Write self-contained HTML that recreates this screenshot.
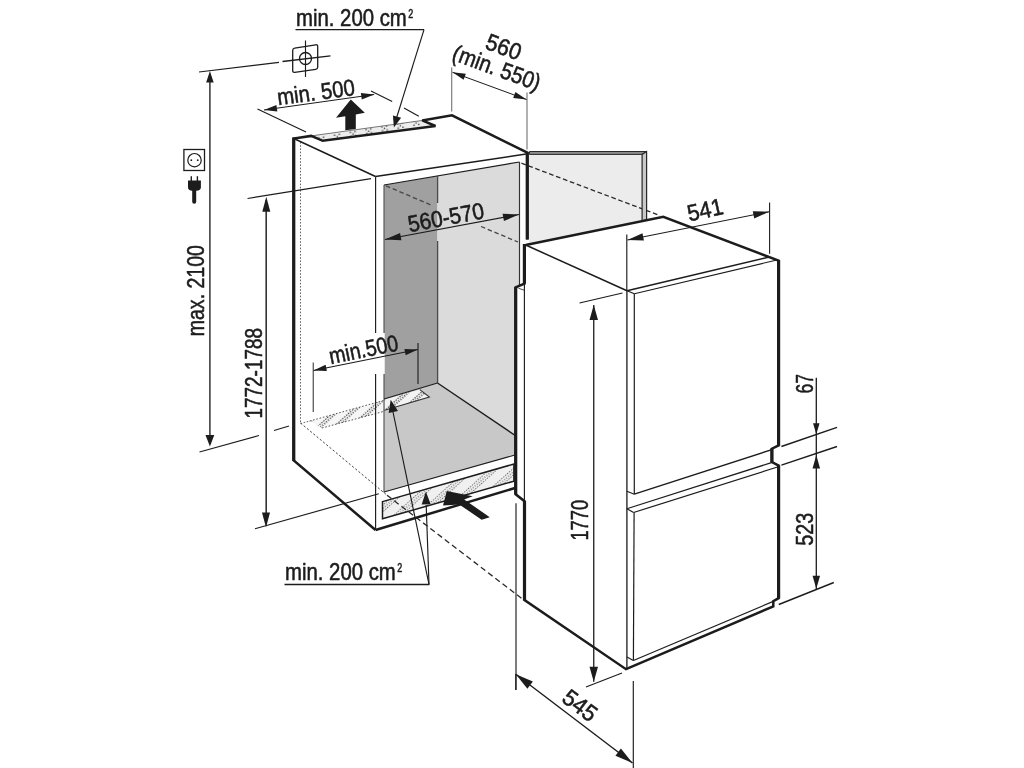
<!DOCTYPE html>
<html><head><meta charset="utf-8"><title>Installation dimensions</title>
<style>
html,body{margin:0;padding:0;background:#fff;}
body{width:1024px;height:768px;overflow:hidden;}
svg{display:block;filter:grayscale(1);}
text{font-family:"Liberation Sans",sans-serif;fill:#1c1c1c;stroke:#1c1c1c;stroke-width:0.55px;stroke-linejoin:round;}
</style></head><body>
<svg width="1024" height="768" viewBox="0 0 1024 768">
<defs>
<pattern id="stip" width="16" height="9" patternUnits="userSpaceOnUse" patternTransform="rotate(-10)">
<rect width="16" height="9" fill="#ededed"/>
<circle cx="2" cy="2.2" r="0.75" fill="#222"/><circle cx="4.4" cy="4.2" r="0.75" fill="#222"/><circle cx="6.8" cy="2.2" r="0.75" fill="#222"/><circle cx="2" cy="6.2" r="0.75" fill="#222"/><circle cx="6.8" cy="6.2" r="0.75" fill="#222"/>
</pattern>
<pattern id="stipb" width="2.6" height="15" patternUnits="userSpaceOnUse" patternTransform="rotate(-42)">
<rect width="2.6" height="15" fill="#f0f0f0"/>
<circle cx="0.7" cy="1.5" r="0.6" fill="#2a2a2a"/><circle cx="2" cy="4" r="0.6" fill="#2a2a2a"/><circle cx="0.7" cy="6.5" r="0.6" fill="#2a2a2a"/>
</pattern>
<pattern id="stip2" width="2.6" height="11" patternUnits="userSpaceOnUse" patternTransform="rotate(-42)">
<rect width="2.6" height="11" fill="#f6f6f6"/>
<circle cx="0.7" cy="1.5" r="0.7" fill="#333"/><circle cx="2" cy="4" r="0.7" fill="#333"/>
</pattern>
<pattern id="stip3" width="2.6" height="11" patternUnits="userSpaceOnUse" patternTransform="rotate(-42)">
<rect width="2.6" height="11" fill="#f4f4f4"/>
<circle cx="0.7" cy="1.5" r="0.7" fill="#222"/><circle cx="2" cy="4" r="0.7" fill="#222"/>
</pattern>
</defs>
<rect width="1024" height="768" fill="#fff"/>
<polygon points="529,153 643,153 643,221 529,243.3" fill="#ececec" stroke="none" stroke-width="1" stroke-linejoin="miter"/>
<polygon points="529.5,151.5 646.6,151.5 642.1,154.4 529.5,154.4" fill="#8c8c8c" stroke="#2a2a2a" stroke-width="1" stroke-linejoin="miter"/>
<polygon points="384,185 437.5,176 437.5,383 384,399" fill="#a0a0a0" stroke="none" stroke-width="1" stroke-linejoin="miter"/>
<polygon points="437.5,176 519.5,162 519.5,285 516,287 516,436 437.5,383" fill="#dbdbdb" stroke="none" stroke-width="1" stroke-linejoin="miter"/>
<polygon points="384,399 437.5,383 516,436 516,455 384,492" fill="#c8c8c8" stroke="none" stroke-width="1" stroke-linejoin="miter"/>
<polygon points="311.5,135.8 422.2,120.4 435.3,125.8 322.7,140.4" fill="url(#stip)" stroke="none" stroke-width="1" stroke-linejoin="miter"/>
<line x1="312" y1="135.8" x2="422" y2="120.5" stroke="#555" stroke-width="0.8" stroke-linecap="butt"/>
<polygon points="309.7,421 384,400.4 384,411.4 322,428" fill="url(#stip2)" stroke="none" stroke-width="1" stroke-linejoin="miter"/>
<line x1="309.7" y1="421" x2="384" y2="400.4" stroke="#444" stroke-width="0.9" stroke-dasharray="1.6,1.8" stroke-linecap="butt"/>
<line x1="322" y1="428" x2="384" y2="411.4" stroke="#444" stroke-width="0.9" stroke-dasharray="1.6,1.8" stroke-linecap="butt"/>
<polygon points="384.5,399.4 419.8,389.6 429.4,397.1 384.5,410.2" fill="url(#stip3)" stroke="none" stroke-width="1" stroke-linejoin="miter"/>
<polygon points="382.5,501.6 513.9,464 513.9,481.2 382.5,518.8" fill="url(#stipb)" stroke="#1c1c1c" stroke-width="1.5" stroke-linejoin="miter"/>
<line x1="300.5" y1="142" x2="300.5" y2="423" stroke="#555" stroke-width="0.9" stroke-dasharray="1.6,1.6" stroke-linecap="butt"/>
<line x1="300.5" y1="423.5" x2="310" y2="421" stroke="#555" stroke-width="0.9" stroke-dasharray="1.6,1.6" stroke-linecap="butt"/>
<line x1="300.5" y1="423" x2="387" y2="495.2" stroke="#444" stroke-width="1" stroke-dasharray="2.2,2" stroke-linecap="butt"/>
<line x1="387" y1="495.2" x2="523.2" y2="599.6" stroke="#2a2a2a" stroke-width="1.3" stroke-dasharray="5.6,3.5" stroke-linecap="butt"/>
<line x1="386" y1="185.8" x2="431" y2="205" stroke="#484848" stroke-width="1.35" stroke-dasharray="4.5,2.8" stroke-linecap="butt"/>
<line x1="481" y1="226.5" x2="518" y2="242" stroke="#484848" stroke-width="1.35" stroke-dasharray="4.5,2.8" stroke-linecap="butt"/>
<line x1="521.4" y1="163.2" x2="660" y2="215.6" stroke="#2a2a2a" stroke-width="1.3" stroke-dasharray="4.7,2.7" stroke-linecap="butt"/>
<polygon points="646.6,151.5 646.6,219.8 642.1,220.8 642.1,154.4" fill="#c8c8c8" stroke="#262626" stroke-width="1.2" stroke-linejoin="miter"/>
<line x1="293.75" y1="138.5" x2="375.5" y2="176.5" stroke="#1c1c1c" stroke-width="1.5" stroke-linecap="butt"/>
<line x1="375.5" y1="176.5" x2="526" y2="154" stroke="#1c1c1c" stroke-width="1.5" stroke-linecap="butt"/>
<line x1="375.6" y1="176.5" x2="375.6" y2="333" stroke="#1c1c1c" stroke-width="1.15" stroke-linecap="butt"/>
<line x1="375.6" y1="374" x2="375.6" y2="530" stroke="#1c1c1c" stroke-width="1.15" stroke-linecap="butt"/>
<line x1="384" y1="185" x2="519.5" y2="162" stroke="#1c1c1c" stroke-width="1.15" stroke-linecap="butt"/>
<line x1="384" y1="185" x2="384" y2="492.5" stroke="#555" stroke-width="1.15" stroke-linecap="butt"/>
<line x1="519.5" y1="162" x2="519.5" y2="285" stroke="#333" stroke-width="1.15" stroke-linecap="butt"/>
<line x1="437.6" y1="176" x2="437.6" y2="203" stroke="#4a4a4a" stroke-width="1.3" stroke-linecap="butt"/>
<line x1="437.6" y1="241" x2="437.6" y2="383" stroke="#4a4a4a" stroke-width="1.3" stroke-linecap="butt"/>
<line x1="384" y1="399" x2="437.5" y2="383" stroke="#1c1c1c" stroke-width="1.2" stroke-linecap="butt"/>
<line x1="437.5" y1="383" x2="516" y2="436" stroke="#1c1c1c" stroke-width="1.4" stroke-linecap="butt"/>
<line x1="384" y1="492" x2="515" y2="455" stroke="#1c1c1c" stroke-width="1.1" stroke-linecap="butt"/>
<polyline points="419.8,389.6 429.4,397.1 384.5,410.2" fill="none" stroke="#333" stroke-width="1.1" stroke-linejoin="miter" stroke-miterlimit="2.2" stroke-linecap="butt"/>
<polyline points="375.5,530 293.75,460.5 293.75,138.6 311.2,135.9 322.7,140.8 435.5,126 422.2,120.4 452,115.3 527.25,152.6 527.25,239.5" fill="none" stroke="#1c1c1c" stroke-width="2.5" stroke-linejoin="miter" stroke-miterlimit="2.2" stroke-linecap="butt"/>
<line x1="375.5" y1="530" x2="515" y2="488" stroke="#1c1c1c" stroke-width="2.5" stroke-linecap="butt"/>
<polyline points="525.7,245 663.3,216.9 778.6,260.6 778.6,445.5 771.9,448.7 771.9,462 778.6,465.6 778.6,598.2 773.3,601.2 773.3,606.4 626,669.2 524.5,600 524.5,501.2 515.7,494.3 515.7,287.3 524.4,283.6 524.4,245" fill="none" stroke="#1c1c1c" stroke-width="2.5" stroke-linejoin="miter" stroke-miterlimit="2.2" stroke-linecap="butt"/>
<line x1="375.5" y1="530" x2="375.5" y2="530" stroke="#1c1c1c" stroke-width="2.5" stroke-linecap="butt"/>
<line x1="293.75" y1="137.5" x2="293.75" y2="461" stroke="#1c1c1c" stroke-width="3.2" stroke-linecap="butt"/>
<line x1="527.25" y1="152" x2="527.25" y2="239.5" stroke="#1c1c1c" stroke-width="3.2" stroke-linecap="butt"/>
<line x1="778.6" y1="260" x2="778.6" y2="445.8" stroke="#1c1c1c" stroke-width="3.2" stroke-linecap="butt"/>
<line x1="778.6" y1="465.3" x2="778.6" y2="598.5" stroke="#1c1c1c" stroke-width="3.2" stroke-linecap="butt"/>
<line x1="771.9" y1="448.4" x2="771.9" y2="462.3" stroke="#1c1c1c" stroke-width="3.2" stroke-linecap="butt"/>
<line x1="524.5" y1="501" x2="524.5" y2="600.5" stroke="#1c1c1c" stroke-width="3.2" stroke-linecap="butt"/>
<line x1="524.4" y1="244" x2="524.4" y2="283.8" stroke="#1c1c1c" stroke-width="3.2" stroke-linecap="butt"/>
<line x1="515.7" y1="287" x2="515.7" y2="494.5" stroke="#1c1c1c" stroke-width="3.2" stroke-linecap="butt"/>
<line x1="525.7" y1="245" x2="627" y2="290.8" stroke="#1c1c1c" stroke-width="1.5" stroke-linecap="butt"/>
<line x1="627" y1="290.8" x2="768.3" y2="257.3" stroke="#1c1c1c" stroke-width="1.5" stroke-linecap="butt"/>
<line x1="634.4" y1="293.8" x2="777" y2="260" stroke="#1c1c1c" stroke-width="1.1" stroke-linecap="butt"/>
<line x1="627" y1="290.8" x2="634.4" y2="293.8" stroke="#1c1c1c" stroke-width="1.15" stroke-linecap="butt"/>
<line x1="626.9" y1="290.8" x2="626.9" y2="668" stroke="#2a2a2a" stroke-width="1.4" stroke-linecap="butt"/>
<line x1="634.3" y1="293.8" x2="634.3" y2="494.2" stroke="#1c1c1c" stroke-width="1.2" stroke-linecap="butt"/>
<line x1="634.1" y1="512.5" x2="633.4" y2="660.5" stroke="#1c1c1c" stroke-width="1.2" stroke-linecap="butt"/>
<line x1="634.3" y1="494.2" x2="771.9" y2="449.6" stroke="#1c1c1c" stroke-width="1.4" stroke-linecap="butt"/>
<line x1="626.9" y1="491.2" x2="634.3" y2="494.2" stroke="#1c1c1c" stroke-width="1.15" stroke-linecap="butt"/>
<line x1="626.9" y1="508.8" x2="771.5" y2="462.6" stroke="#1c1c1c" stroke-width="1.2" stroke-linecap="butt"/>
<line x1="633.6" y1="512.5" x2="777.5" y2="467" stroke="#1c1c1c" stroke-width="1.2" stroke-linecap="butt"/>
<line x1="626.9" y1="508.8" x2="633.6" y2="512.5" stroke="#1c1c1c" stroke-width="1.15" stroke-linecap="butt"/>
<line x1="633.4" y1="660.5" x2="773.2" y2="601.4" stroke="#1c1c1c" stroke-width="1.2" stroke-linecap="butt"/>
<line x1="626.9" y1="657" x2="633.4" y2="660.5" stroke="#1c1c1c" stroke-width="1.15" stroke-linecap="butt"/>
<line x1="524.4" y1="283.6" x2="524.4" y2="500.5" stroke="#1c1c1c" stroke-width="1.15" stroke-linecap="butt"/>
<line x1="518.4" y1="288.2" x2="524.4" y2="290.3" stroke="#1c1c1c" stroke-width="0.8" stroke-linecap="butt"/>
<line x1="516" y1="503.2" x2="516" y2="690" stroke="#1c1c1c" stroke-width="1.15" stroke-linecap="butt"/>
<line x1="199" y1="72" x2="279" y2="62.4" stroke="#1c1c1c" stroke-width="1.15" stroke-linecap="butt"/>
<line x1="209.9" y1="75" x2="209.9" y2="440" stroke="#333" stroke-width="1.5" stroke-linecap="butt"/>
<polygon points="209.9,71 213.65,82.5 206.15,82.5" fill="#1c1c1c" stroke="none" stroke-width="1" stroke-linejoin="miter"/>
<polygon points="209.9,446.5 205.5,435.0 214.3,435.0" fill="#1c1c1c" stroke="none" stroke-width="1" stroke-linejoin="miter"/>
<line x1="199.5" y1="452" x2="259" y2="435.5" stroke="#1c1c1c" stroke-width="1.15" stroke-linecap="butt"/>
<line x1="274" y1="430.5" x2="289" y2="426" stroke="#1c1c1c" stroke-width="1.15" stroke-linecap="butt"/>
<text x="203.8" y="336.3" font-size="23.2" text-anchor="start" textLength="91.3" lengthAdjust="spacingAndGlyphs" transform="rotate(-90 203.8 336.3)">max. 2100</text>
<line x1="247.5" y1="198.5" x2="371" y2="178.6" stroke="#1c1c1c" stroke-width="1.15" stroke-linecap="butt"/>
<line x1="266.2" y1="200" x2="266.2" y2="520" stroke="#333" stroke-width="1.6" stroke-linecap="butt"/>
<polygon points="266.3,196.7 270.3,211.7 262.3,211.7" fill="#1c1c1c" stroke="none" stroke-width="1" stroke-linejoin="miter"/>
<polygon points="266,527.5 262.0,512.5 270.0,512.5" fill="#1c1c1c" stroke="none" stroke-width="1" stroke-linejoin="miter"/>
<line x1="255" y1="528.8" x2="378.8" y2="493.8" stroke="#1c1c1c" stroke-width="1.15" stroke-linecap="butt"/>
<text x="262" y="418.5" font-size="23.2" text-anchor="start" textLength="90.5" lengthAdjust="spacingAndGlyphs" transform="rotate(-90 262 418.5)">1772-1788</text>
<line x1="257.5" y1="109" x2="306" y2="132" stroke="#1c1c1c" stroke-width="1.15" stroke-linecap="butt"/>
<line x1="371" y1="91" x2="392.2" y2="101.4" stroke="#1c1c1c" stroke-width="1.15" stroke-linecap="butt"/>
<line x1="404" y1="108" x2="418.8" y2="116.3" stroke="#1c1c1c" stroke-width="1.15" stroke-linecap="butt"/>
<line x1="264" y1="110" x2="374.2" y2="94.5" stroke="#1c1c1c" stroke-width="1" stroke-linecap="butt"/>
<polygon points="264,110 276.42,104.97 277.33,111.41" fill="#1c1c1c" stroke="none" stroke-width="1" stroke-linejoin="miter"/>
<polygon points="374.2,94.5 361.78,99.53 360.87,93.09" fill="#1c1c1c" stroke="none" stroke-width="1" stroke-linejoin="miter"/>
<text x="278.3" y="105.3" font-size="23.2" text-anchor="start" textLength="78" lengthAdjust="spacingAndGlyphs" transform="rotate(-7.6 278.3 105.3)">min. 500</text>
<line x1="451.7" y1="67.5" x2="451.7" y2="111.5" stroke="#777" stroke-width="1.15" stroke-linecap="butt"/>
<line x1="527" y1="92.5" x2="527" y2="149.5" stroke="#777" stroke-width="1.15" stroke-linecap="butt"/>
<line x1="452.5" y1="72.3" x2="526.5" y2="99.5" stroke="#1c1c1c" stroke-width="1" stroke-linecap="butt"/>
<polygon points="452.5,72.3 465.82,73.73 463.58,79.84" fill="#1c1c1c" stroke="none" stroke-width="1" stroke-linejoin="miter"/>
<polygon points="526.5,99.5 513.18,98.07 515.42,91.96" fill="#1c1c1c" stroke="none" stroke-width="1" stroke-linejoin="miter"/>
<text x="501" y="54.5" font-size="23.2" text-anchor="middle" textLength="36" lengthAdjust="spacingAndGlyphs" transform="rotate(20 501 54.5)">560</text>
<text x="494" y="75.2" font-size="23.2" text-anchor="middle" textLength="92" lengthAdjust="spacingAndGlyphs" transform="rotate(20 494 75.2)">(min. 550)</text>
<line x1="385" y1="239.5" x2="519" y2="214.5" stroke="#1c1c1c" stroke-width="1.1" stroke-linecap="butt"/>
<polygon points="385,239.5 400.04,232.88 401.42,240.25" fill="#1c1c1c" stroke="none" stroke-width="1" stroke-linejoin="miter"/>
<polygon points="519,214.5 503.96,221.12 502.58,213.75" fill="#1c1c1c" stroke="none" stroke-width="1" stroke-linejoin="miter"/>
<text x="409.5" y="232.2" font-size="23.2" text-anchor="start" textLength="77" lengthAdjust="spacingAndGlyphs" transform="rotate(-10.5 409.5 232.2)">560-570</text>
<rect x="374" y="333" width="10.8" height="41" fill="#fff"/>
<line x1="313.25" y1="362.5" x2="313.25" y2="412" stroke="#444" stroke-width="1.15" stroke-linecap="butt"/>
<line x1="418" y1="343" x2="418" y2="384" stroke="#222" stroke-width="1.15" stroke-linecap="butt"/>
<line x1="313.5" y1="370.5" x2="417.8" y2="349.5" stroke="#1c1c1c" stroke-width="1.1" stroke-linecap="butt"/>
<polygon points="313.5,370.5 325.6,364.75 326.89,371.12" fill="#1c1c1c" stroke="none" stroke-width="1" stroke-linejoin="miter"/>
<polygon points="417.8,349.5 405.7,355.25 404.41,348.88" fill="#1c1c1c" stroke="none" stroke-width="1" stroke-linejoin="miter"/>
<text x="330.8" y="364.2" font-size="23.2" text-anchor="start" textLength="70" lengthAdjust="spacingAndGlyphs" transform="rotate(-11.5 330.8 364.2)">min.500</text>
<line x1="626.8" y1="234.5" x2="626.8" y2="290" stroke="#1c1c1c" stroke-width="1.15" stroke-linecap="butt"/>
<line x1="769.6" y1="202.5" x2="769.6" y2="253.7" stroke="#1c1c1c" stroke-width="1.1" stroke-linecap="butt"/>
<line x1="627.5" y1="240" x2="769.2" y2="211.7" stroke="#1c1c1c" stroke-width="1.1" stroke-linecap="butt"/>
<polygon points="627.5,240 642.46,233.19 643.92,240.54" fill="#1c1c1c" stroke="none" stroke-width="1" stroke-linejoin="miter"/>
<polygon points="769.2,211.7 754.24,218.51 752.78,211.16" fill="#1c1c1c" stroke="none" stroke-width="1" stroke-linejoin="miter"/>
<text x="689.3" y="221.5" font-size="23.2" text-anchor="start" textLength="36" lengthAdjust="spacingAndGlyphs" transform="rotate(-12.5 689.3 221.5)">541</text>
<line x1="579.5" y1="303" x2="622.5" y2="293" stroke="#1c1c1c" stroke-width="1.15" stroke-linecap="butt"/>
<line x1="593.75" y1="305" x2="593.75" y2="681.8" stroke="#1c1c1c" stroke-width="1.3" stroke-linecap="butt"/>
<polygon points="593.75,305 598.0,320.0 589.5,320.0" fill="#1c1c1c" stroke="none" stroke-width="1" stroke-linejoin="miter"/>
<polygon points="593.75,681.8 589.5,666.8 598.0,666.8" fill="#1c1c1c" stroke="none" stroke-width="1" stroke-linejoin="miter"/>
<line x1="586" y1="687" x2="622" y2="673" stroke="#1c1c1c" stroke-width="1.15" stroke-linecap="butt"/>
<text x="588.4" y="540.6" font-size="23.2" text-anchor="start" textLength="40.8" lengthAdjust="spacingAndGlyphs" transform="rotate(-90 588.4 540.6)">1770</text>
<line x1="781.4" y1="446.5" x2="837" y2="427.3" stroke="#1c1c1c" stroke-width="1.4" stroke-linecap="butt"/>
<line x1="781.4" y1="465.2" x2="837" y2="446.5" stroke="#1c1c1c" stroke-width="1.4" stroke-linecap="butt"/>
<line x1="816.3" y1="377.7" x2="816.3" y2="589" stroke="#1c1c1c" stroke-width="1.3" stroke-linecap="butt"/>
<polygon points="816.3,434.2 813.05,423.2 819.55,423.2" fill="#1c1c1c" stroke="none" stroke-width="1" stroke-linejoin="miter"/>
<polygon points="816.3,455 820.05,468.5 812.55,468.5" fill="#1c1c1c" stroke="none" stroke-width="1" stroke-linejoin="miter"/>
<polygon points="816.3,588.8 812.55,575.8 820.05,575.8" fill="#1c1c1c" stroke="none" stroke-width="1" stroke-linejoin="miter"/>
<line x1="778.8" y1="604.5" x2="833.8" y2="582.5" stroke="#1c1c1c" stroke-width="1.4" stroke-linecap="butt"/>
<text x="812.8" y="393.6" font-size="23.2" text-anchor="start" textLength="19.5" lengthAdjust="spacingAndGlyphs" transform="rotate(-90 812.8 393.6)">67</text>
<text x="812.6" y="545.8" font-size="23.2" text-anchor="start" textLength="33" lengthAdjust="spacingAndGlyphs" transform="rotate(-90 812.6 545.8)">523</text>
<line x1="515.8" y1="690" x2="515.8" y2="674" stroke="#1c1c1c" stroke-width="1.15" stroke-linecap="butt"/>
<line x1="633.3" y1="681" x2="633.3" y2="768" stroke="#1c1c1c" stroke-width="1.15" stroke-linecap="butt"/>
<line x1="515.8" y1="674.2" x2="632.5" y2="763" stroke="#1c1c1c" stroke-width="1.4" stroke-linecap="butt"/>
<polygon points="515.8,674.2 532.85,681.52 527.4,688.68" fill="#1c1c1c" stroke="none" stroke-width="1" stroke-linejoin="miter"/>
<polygon points="632.5,763 615.45,755.68 620.9,748.52" fill="#1c1c1c" stroke="none" stroke-width="1" stroke-linejoin="miter"/>
<text x="575.2" y="711.8" font-size="23.2" text-anchor="middle" textLength="37" lengthAdjust="spacingAndGlyphs" transform="rotate(37 575.2 711.8)">545</text>
<text x="296" y="26.4" font-size="23.2" text-anchor="start" textLength="110.8" lengthAdjust="spacingAndGlyphs">min. 200 cm</text>
<text x="408.3" y="18.2" font-size="12" text-anchor="start" textLength="5" lengthAdjust="spacingAndGlyphs">2</text>
<line x1="295.5" y1="29.6" x2="424" y2="29.6" stroke="#1c1c1c" stroke-width="1.3" stroke-linecap="butt"/>
<line x1="424" y1="29.6" x2="396.5" y2="118" stroke="#1c1c1c" stroke-width="1.15" stroke-linecap="butt"/>
<polygon points="393.9,127.6 392.92,115.38 401.1,117.68" fill="#1c1c1c" stroke="none" stroke-width="1" stroke-linejoin="miter"/>
<text x="285" y="579.8" font-size="23.2" text-anchor="start" textLength="110.8" lengthAdjust="spacingAndGlyphs">min. 200 cm</text>
<text x="397.3" y="571.6" font-size="12" text-anchor="start" textLength="5" lengthAdjust="spacingAndGlyphs">2</text>
<line x1="284.5" y1="584.5" x2="429.3" y2="584.5" stroke="#1c1c1c" stroke-width="1.3" stroke-linecap="butt"/>
<line x1="429" y1="584.5" x2="426.2" y2="505" stroke="#1c1c1c" stroke-width="1.15" stroke-linecap="butt"/>
<polygon points="425.9,491.4 430.69,504.3 421.69,504.5" fill="#1c1c1c" stroke="none" stroke-width="1" stroke-linejoin="miter"/>
<line x1="429" y1="584.5" x2="393" y2="412" stroke="#1c1c1c" stroke-width="1.15" stroke-linecap="butt"/>
<polygon points="390.7,399.8 397.95,411.04 388.66,413.02" fill="#1c1c1c" stroke="none" stroke-width="1" stroke-linejoin="miter"/>
<path d="M294.7,48.1 L315.7,44.8 Q317.7,44.5 317.7,46.5 L317.7,67 Q317.7,69 315.7,69.3 L294.7,72.3 Q292.7,72.6 292.7,70.6 L292.7,50.4 Q292.7,48.4 294.7,48.1 Z" fill="none" stroke="#1c1c1c" stroke-width="1.3"/>
<circle cx="305.5" cy="58.5" r="6" fill="none" stroke="#1c1c1c" stroke-width="1.3"/>
<line x1="305.5" y1="40.5" x2="305.5" y2="77" stroke="#1c1c1c" stroke-width="1.15" stroke-linecap="butt"/>
<line x1="282.5" y1="61.5" x2="330.5" y2="55.8" stroke="#1c1c1c" stroke-width="1.3" stroke-linecap="butt"/>
<rect x="183.9" y="149.5" width="20.6" height="21" fill="#fff" stroke="#1c1c1c" stroke-width="1.3"/>
<circle cx="194.5" cy="160.2" r="6.7" fill="none" stroke="#1c1c1c" stroke-width="1.2"/>
<circle cx="191.3" cy="160.2" r="0.9" fill="#1c1c1c"/><circle cx="197.7" cy="160.2" r="0.9" fill="#1c1c1c"/>
<line x1="191.3" y1="176.2" x2="191.3" y2="181" stroke="#1c1c1c" stroke-width="1.4" stroke-linecap="butt"/>
<line x1="197.4" y1="176.2" x2="197.4" y2="181" stroke="#1c1c1c" stroke-width="1.4" stroke-linecap="butt"/>
<path d="M188,180.5 H200.9 V187 Q200.9,190.8 196.2,190.8 H192.2 Q188,190.8 188,187 Z" fill="#1c1c1c"/>
<path d="M192.2,189 H196.2 V201.8 Q196.2,203.8 194.2,203.8 Q192.2,203.8 192.2,201.8 Z" fill="#1c1c1c"/>
<polygon points="350.8,99.5 364.8,112.8 355.8,114.4 355.8,128.9 345.3,130.3 345.3,116.3 336,117.8" fill="#1c1c1c" stroke="none" stroke-width="1" stroke-linejoin="miter"/>
<polygon points="446.75,490.9 472.7,496.2 464.2,499.5 489.8,517.25 481.6,519.85 459.3,504.4 443,505.4" fill="#1c1c1c" stroke="none" stroke-width="1" stroke-linejoin="miter"/>
</svg>
</body></html>
